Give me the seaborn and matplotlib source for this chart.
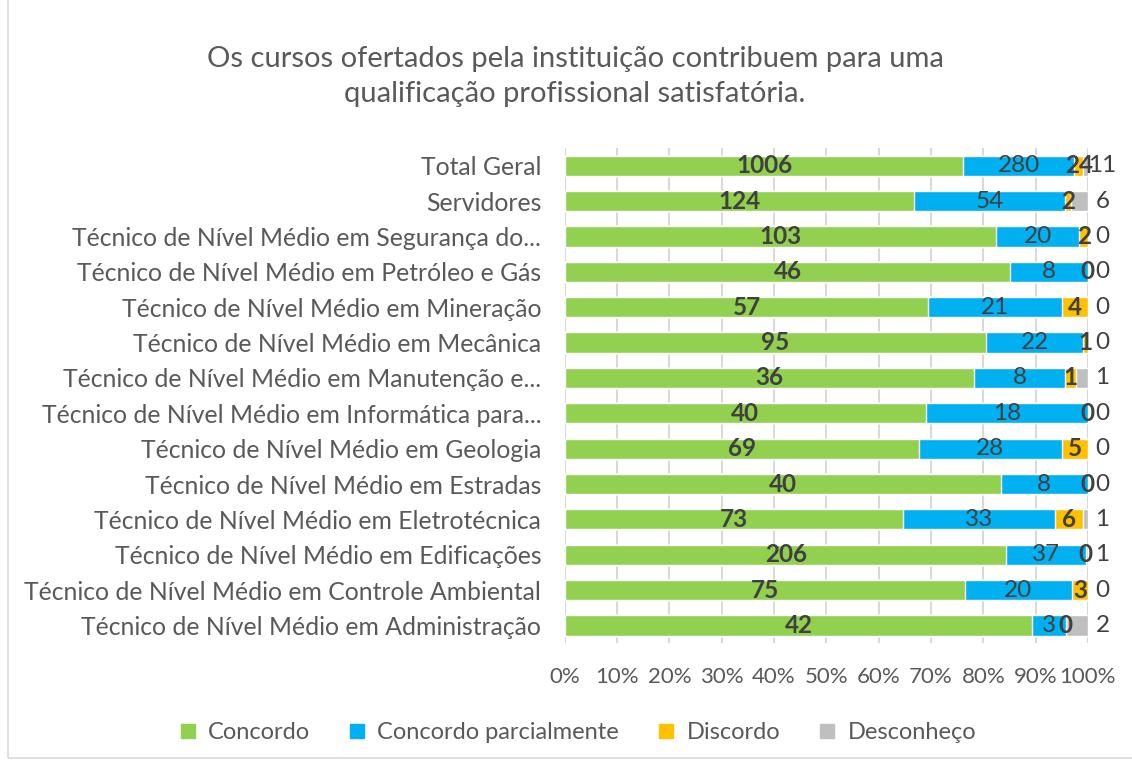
import matplotlib
matplotlib.use("Agg")
import matplotlib.pyplot as plt
from matplotlib.patches import Rectangle
from matplotlib.lines import Line2D
import seaborn as sns
import numpy as np
import pandas as pd

categories = [
    "Total Geral",
    "Servidores",
    "Técnico de Nível Médio em Segurança do...",
    "Técnico de Nível Médio em Petróleo e Gás",
    "Técnico de Nível Médio em Mineração",
    "Técnico de Nível Médio em Mecânica",
    "Técnico de Nível Médio em Manutenção e...",
    "Técnico de Nível Médio em Informática para...",
    "Técnico de Nível Médio em Geologia",
    "Técnico de Nível Médio em Estradas",
    "Técnico de Nível Médio em Eletrotécnica",
    "Técnico de Nível Médio em Edificações",
    "Técnico de Nível Médio em Controle Ambiental",
    "Técnico de Nível Médio em Administração",
]
concordo = [1006, 124, 103, 46, 57, 95, 36, 40, 69, 40, 73, 206, 75, 42]
concordo_parcialmente = [280, 54, 20, 8, 21, 22, 8, 18, 28, 8, 33, 37, 20, 3]
discordo = [24, 2, 2, 0, 4, 1, 1, 0, 5, 0, 6, 0, 3, 0]
desconheco = [11, 6, 0, 0, 0, 0, 1, 0, 0, 0, 1, 1, 0, 2]

series_names = ["Concordo", "Concordo parcialmente", "Discordo", "Desconheço"]
series_values = [concordo, concordo_parcialmente, discordo, desconheco]
colors = ["#92D050", "#00B0F0", "#FFC000", "#BFBFBF"]
tick_labels = [f"{p}%" for p in range(0, 101, 10)]

sns.set_style("white")
plt.rcParams["font.family"] = ["Lato", "DejaVu Sans"]

df = pd.DataFrame(dict(zip(series_names, series_values)), index=categories)
pct = df.div(df.sum(axis=1), axis=0) * 100
cum = pct.cumsum(axis=1)

fig = plt.figure(figsize=(11.32, 7.63), dpi=100)
ax = fig.add_axes([0.499, 0.157, 0.462, 0.649])

# draw cumulative bars from the longest to the shortest so they stack
for name, color in reversed(list(zip(series_names, colors))):
    sns.barplot(x=cum[name].values, y=categories, color=color, orient="h",
                width=0.57, ax=ax, saturation=1, zorder=3)

ax.set_xlim(0, 100)
ax.set_ylim(13.5, -0.5)
ax.set_xticks(range(0, 101, 10))
ax.set_xticklabels(tick_labels, fontsize=16, color="#595959")
ax.tick_params(axis="y", labelsize=17.8, labelcolor="#595959", length=0, pad=17)
ax.tick_params(axis="x", length=0, pad=17)
ax.grid(axis="x", color="#D9D9D9", linewidth=1.5, zorder=0)
ax.set_axisbelow(True)
ax.set_xlabel("")
ax.set_ylabel("")
for s in ax.spines.values():
    s.set_visible(False)

# data labels
starts = cum - pct
for i, cat in enumerate(categories):
    for j, name in enumerate(series_names):
        val = df.loc[cat, name]
        if name == "Desconheço":
            x = 102.8
        else:
            x = starts.loc[cat, name] + pct.loc[cat, name] / 2
        bold = name in ("Concordo", "Discordo")
        ax.text(x, i, str(val), ha="center", va="center", fontsize=17.5,
                color="#404040", fontweight="bold" if bold else "normal",
                zorder=5, clip_on=False)

fig.text(0.508, 0.9, "Os cursos ofertados pela instituição contribuem para uma\nqualificação profissional satisfatória.",
         ha="center", va="center", fontsize=21, color="#595959", linespacing=1.45)

handles = [Line2D([0], [0], marker="s", linestyle="", markersize=10,
                  markerfacecolor=c, markeredgecolor=c) for c in colors]
fig.legend(handles, series_names, loc="center", bbox_to_anchor=(0.51, 0.04),
           ncol=4, frameon=False, fontsize=17, labelcolor="#595959",
           columnspacing=1.6, handlelength=0.8, handletextpad=0.45)

fig.patches.append(Rectangle((0.007, 0.006), 1.2, 1.2, transform=fig.transFigure,
                             fill=False, edgecolor="#D9D9D9", linewidth=1.2))

fig.savefig("out.png", dpi=100)
